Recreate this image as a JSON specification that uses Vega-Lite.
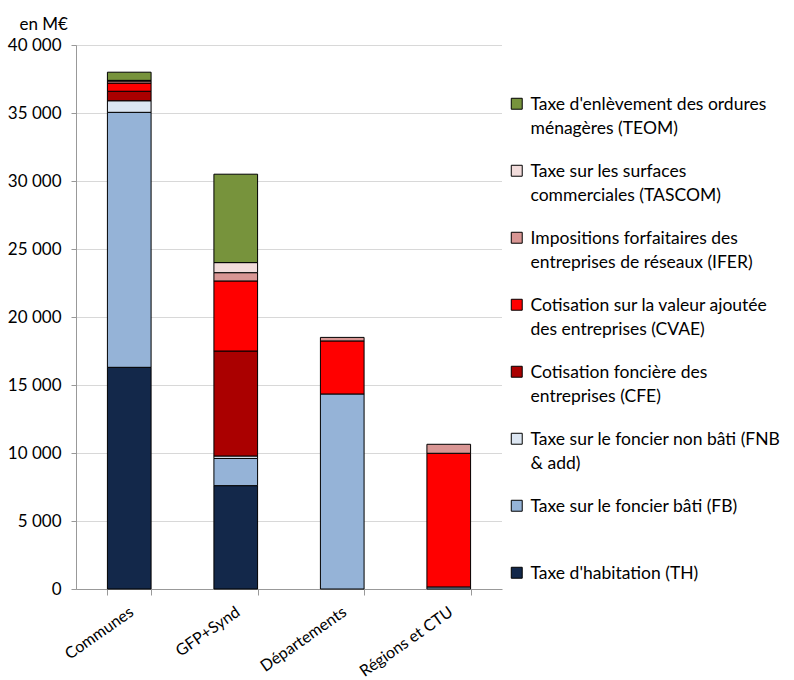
{
  "$schema": "https://vega.github.io/schema/vega-lite/v6.json",
  "width": 426,
  "height": 544,
  "autosize": {"type": "none"},
  "padding": {"left": 76, "top": 45, "right": 292, "bottom": 91},
  "background": "white",
  "config": {
    "view": {"stroke": null},
    "font": "Lato",
    "axis": {"labelFont": "Lato", "titleFont": "Lato"},
    "legend": {"labelFont": "Lato"},
    "style": {"guide-label": {"lineHeight": 24, "dy": -8}}
  },
  "data": {
    "values": [
      {"collectivite": "Communes", "taxe": "TH", "rang": 1, "montant": 16300},
      {"collectivite": "Communes", "taxe": "FB", "rang": 2, "montant": 18750},
      {"collectivite": "Communes", "taxe": "FNB", "rang": 3, "montant": 850},
      {"collectivite": "Communes", "taxe": "CFE", "rang": 4, "montant": 700},
      {"collectivite": "Communes", "taxe": "CVAE", "rang": 5, "montant": 600},
      {"collectivite": "Communes", "taxe": "IFER", "rang": 6, "montant": 150},
      {"collectivite": "Communes", "taxe": "TASCOM", "rang": 7, "montant": 50},
      {"collectivite": "Communes", "taxe": "TEOM", "rang": 8, "montant": 600},
      {"collectivite": "GFP+Synd", "taxe": "TH", "rang": 1, "montant": 7600},
      {"collectivite": "GFP+Synd", "taxe": "FB", "rang": 2, "montant": 2000},
      {"collectivite": "GFP+Synd", "taxe": "FNB", "rang": 3, "montant": 180},
      {"collectivite": "GFP+Synd", "taxe": "CFE", "rang": 4, "montant": 7720},
      {"collectivite": "GFP+Synd", "taxe": "CVAE", "rang": 5, "montant": 5150},
      {"collectivite": "GFP+Synd", "taxe": "IFER", "rang": 6, "montant": 610},
      {"collectivite": "GFP+Synd", "taxe": "TASCOM", "rang": 7, "montant": 740},
      {"collectivite": "GFP+Synd", "taxe": "TEOM", "rang": 8, "montant": 6500},
      {"collectivite": "Départements", "taxe": "FB", "rang": 2, "montant": 14340},
      {"collectivite": "Départements", "taxe": "CVAE", "rang": 5, "montant": 3900},
      {"collectivite": "Départements", "taxe": "IFER", "rang": 6, "montant": 260},
      {"collectivite": "Régions et CTU", "taxe": "FB", "rang": 2, "montant": 150},
      {"collectivite": "Régions et CTU", "taxe": "CVAE", "rang": 5, "montant": 9830},
      {"collectivite": "Régions et CTU", "taxe": "IFER", "rang": 6, "montant": 660}
    ]
  },
  "mark": {"type": "bar", "stroke": "black", "strokeWidth": 1},
  "encoding": {
    "x": {
      "field": "collectivite",
      "type": "nominal",
      "sort": ["Communes", "GFP+Synd", "Départements", "Régions et CTU"],
      "scale": {"paddingInner": 0.59, "paddingOuter": 0.295},
      "axis": {
        "title": null,
        "labelAngle": -35,
        "labelAlign": "right",
        "labelBaseline": "top",
        "labelFontSize": 16,
        "labelColor": "black",
        "labelPadding": 15,
        "labelOffset": 2,
        "tickBand": "extent",
        "tickSize": 6,
        "tickColor": "#999999",
        "domainColor": "#999999",
        "grid": false
      }
    },
    "y": {
      "field": "montant",
      "type": "quantitative",
      "stack": "zero",
      "scale": {"domain": [0, 40000], "nice": false},
      "axis": {
        "values": [0, 5000, 10000, 15000, 20000, 25000, 30000, 35000, 40000],
        "labelExpr": "replace(format(datum.value, ','), ',', ' ')",
        "labelFontSize": 17,
        "labelColor": "black",
        "labelPadding": 10,
        "labelOffset": 8,
        "tickSize": 5,
        "tickColor": "#999999",
        "domainColor": "#999999",
        "gridColor": "#b0b0b0",
        "gridDash": [1, 1],
        "title": "en M€",
        "titleAngle": 0,
        "titleAlign": "left",
        "titleBaseline": "bottom",
        "titleX": -57,
        "titleY": -12,
        "titleFontSize": 17,
        "titleFontWeight": "normal",
        "titleColor": "black"
      }
    },
    "color": {
      "field": "taxe",
      "type": "nominal",
      "scale": {
        "domain": ["TEOM", "TASCOM", "IFER", "CVAE", "CFE", "FNB", "FB", "TH"],
        "range": ["#77933C", "#F2DCDB", "#D99694", "#FF0000", "#AA0000", "#DCE6F2", "#95B3D7", "#13284A"]
      },
      "legend": {
        "title": null,
        "orient": "none",
        "legendX": 432,
        "legendY": 50,
        "symbolType": "square",
        "symbolSize": 120,
        "symbolStrokeColor": "black",
        "symbolStrokeWidth": 1,
        "labelFontSize": 17.5,
        "labelColor": "black",
        "labelLimit": 300,
        "labelOffset": 5,
        "labelBaseline": "top",
        "rowPadding": 24,
        "labelExpr": "datum.label == 'TEOM' ? ['Taxe d\\'enlèvement des ordures', 'ménagères (TEOM)'] : datum.label == 'TASCOM' ? ['Taxe sur les surfaces', 'commerciales (TASCOM)'] : datum.label == 'IFER' ? ['Impositions forfaitaires des', 'entreprises de réseaux (IFER)'] : datum.label == 'CVAE' ? ['Cotisation sur la valeur ajoutée', 'des entreprises (CVAE)'] : datum.label == 'CFE' ? ['Cotisation foncière des', 'entreprises (CFE)'] : datum.label == 'FNB' ? ['Taxe sur le foncier non bâti (FNB', '& add)'] : datum.label == 'FB' ? ['Taxe sur le foncier bâti (FB)', ''] : ['Taxe d\\'habitation (TH)', '']"
      }
    },
    "order": {"field": "rang", "type": "quantitative", "sort": "ascending"}
  }
}
